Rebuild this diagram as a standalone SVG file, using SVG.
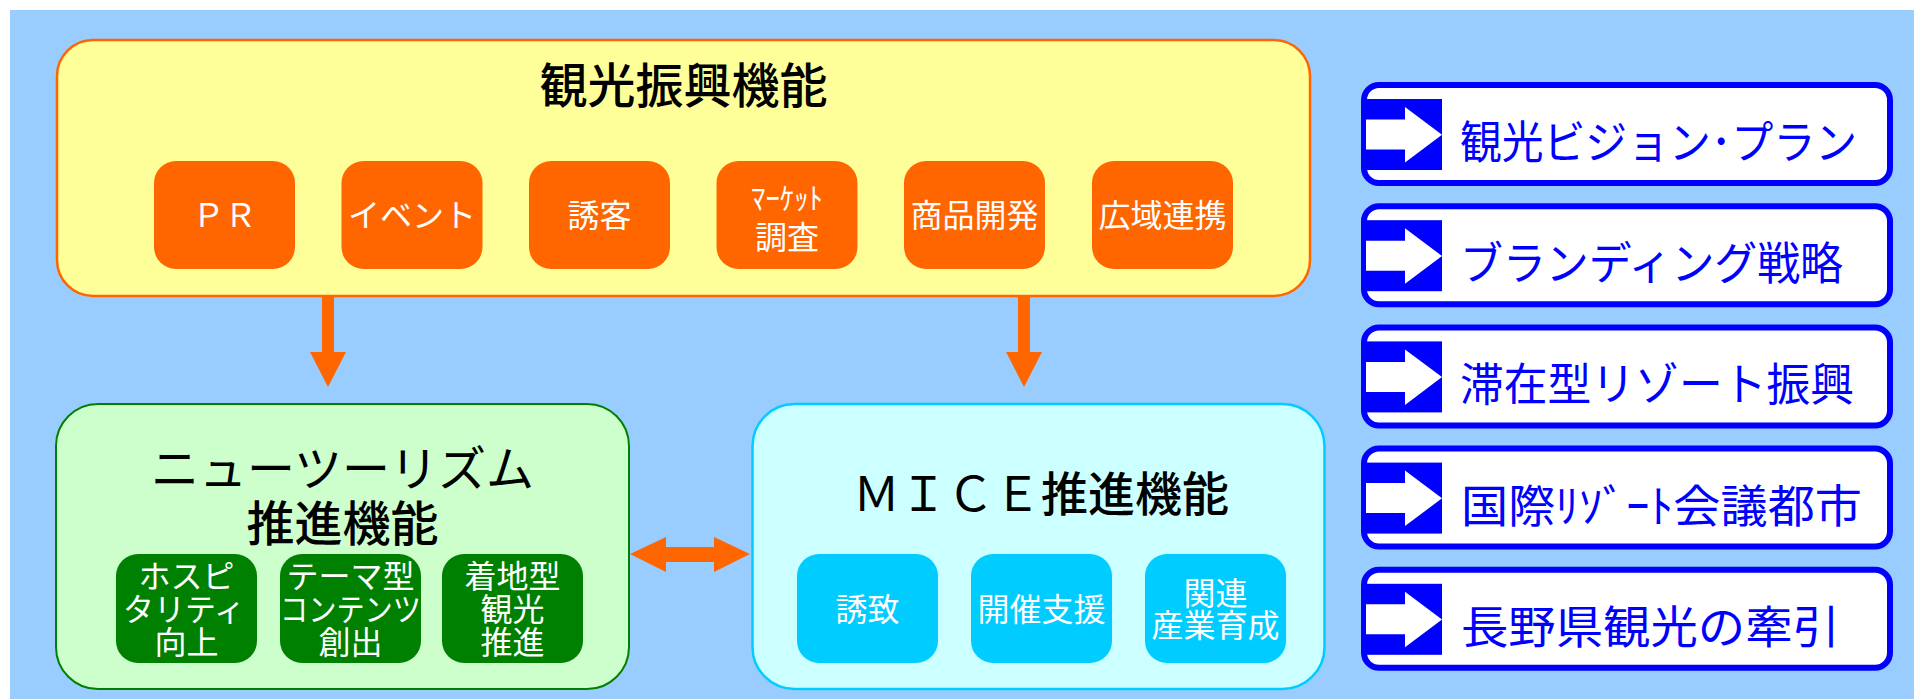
<svg xmlns="http://www.w3.org/2000/svg" width="1914" height="699" viewBox="0 0 1914 699">
<style>
text{font-family:"Noto Sans CJK JP","Noto Sans CJK SC",sans-serif}
.title{font-size:48px;fill:#000;text-anchor:middle;font-weight:500}
.sub{font-size:32px;fill:#fff;text-anchor:middle}
.rt{font-size:45px;fill:#0000FF}
.obox{fill:#FF6600}
.gbox{fill:#008000}
.cbox{fill:#00CCFF}
.bframe{fill:#fff;stroke:#0000FF;stroke-width:6}
.conn{fill:#FF6600}
</style>
<defs>
<g id="barrow">
<rect x="1364" y="99" width="78" height="71" fill="#0000FF"/>
<polygon points="1366,119.5 1405,119.5 1405,107 1442,134.7 1405,162.5 1405,149.5 1366,149.5" fill="#fff"/>
</g>
</defs>
<rect x="0" y="0" width="1914" height="699" fill="#fff"/>
<rect x="10" y="10" width="1904" height="689" fill="#99CCFF"/>

<g id="kanko">
<rect x="57" y="40" width="1253" height="256" rx="36" fill="#FFFF99" stroke="#FF6600" stroke-width="2.5"/>
<text class="title" x="683.5" y="103">観光振興機能</text>
</g>
<g id="pr"><rect class="obox" x="154" y="161" width="141" height="108" rx="22"/><text class="sub" x="224.5" y="227">ＰＲ</text></g>
<g id="event"><rect class="obox" x="341.5" y="161" width="141" height="108" rx="22"/><text class="sub" x="412" y="227">イベント</text></g>
<g id="yukyaku"><rect class="obox" x="529" y="161" width="141" height="108" rx="22"/><text class="sub" x="599.5" y="227">誘客</text></g>
<g id="market"><rect class="obox" x="716.5" y="161" width="141" height="108" rx="22"/><text class="sub" x="787" y="209" style="font-size:30px" textLength="72" lengthAdjust="spacingAndGlyphs">ﾏｰｹｯﾄ</text><text class="sub" x="787" y="249">調査</text></g>
<g id="shohin"><rect class="obox" x="904" y="161" width="141" height="108" rx="22"/><text class="sub" x="974.5" y="227">商品開発</text></g>
<g id="koiki"><rect class="obox" x="1092" y="161" width="141" height="108" rx="22"/><text class="sub" x="1162.5" y="227">広域連携</text></g>

<g id="newtourism">
<rect x="56" y="404" width="573" height="285" rx="42" fill="#CCFFCC" stroke="#008000" stroke-width="2"/>
<text class="title" x="342.5" y="486" style="font-weight:400">ニューツーリズム</text>
<text class="title" x="342.5" y="541">推進機能</text>
</g>
<g id="hospitality"><rect class="gbox" x="116" y="554" width="141" height="109" rx="22"/>
<text class="sub" x="186.5" y="588">ホスピ</text><text class="sub" x="184" y="621" textLength="122" lengthAdjust="spacingAndGlyphs">タリティ</text><text class="sub" x="186.5" y="654">向上</text></g>
<g id="theme"><rect class="gbox" x="280" y="554" width="141" height="109" rx="22"/>
<text class="sub" x="350.5" y="588">テーマ型</text><text class="sub" x="350.5" y="621" textLength="141" lengthAdjust="spacingAndGlyphs">コンテンツ</text><text class="sub" x="350.5" y="654">創出</text></g>
<g id="chakuchi"><rect class="gbox" x="442" y="554" width="141" height="109" rx="22"/>
<text class="sub" x="512.5" y="588">着地型</text><text class="sub" x="512.5" y="621">観光</text><text class="sub" x="512.5" y="654">推進</text></g>

<g id="mice">
<rect x="752.5" y="404" width="572" height="285" rx="42" fill="#CCFFFF" stroke="#00CCFF" stroke-width="2.5"/>
<text class="title" x="1041" y="511" style="font-size:47px"><tspan style="font-weight:400">ＭＩＣＥ</tspan>推進機能</text>
</g>
<g id="yuchi"><rect class="cbox" x="797" y="554" width="141" height="109" rx="22"/><text class="sub" x="867.5" y="621">誘致</text></g>
<g id="kaisai"><rect class="cbox" x="971" y="554" width="141" height="109" rx="22"/><text class="sub" x="1041.5" y="621">開催支援</text></g>
<g id="kanren"><rect class="cbox" x="1145" y="554" width="141" height="109" rx="22"/><text class="sub" x="1215.5" y="605">関連</text><text class="sub" x="1215.5" y="637">産業育成</text></g>

<g id="r1"><rect class="bframe" x="1364" y="85" width="526" height="98" rx="15"/><use href="#barrow"/><text class="rt" x="1460" y="159" textLength="397" lengthAdjust="spacingAndGlyphs">観光ビジョン･プラン</text></g>
<g id="r2"><rect class="bframe" x="1364" y="206.2" width="526" height="98" rx="15"/><use href="#barrow" y="121.2"/><text class="rt" x="1460" y="280.2" textLength="383" lengthAdjust="spacingAndGlyphs">ブランディング戦略</text></g>
<g id="r3"><rect class="bframe" x="1364" y="327.4" width="526" height="98" rx="15"/><use href="#barrow" y="242.4"/><text class="rt" x="1460" y="401.4" textLength="394" lengthAdjust="spacingAndGlyphs">滞在型リゾート振興</text></g>
<g id="r4"><rect class="bframe" x="1364" y="448.6" width="526" height="98" rx="15"/><use href="#barrow" y="363.6"/><text class="rt" x="1461" y="522.6" textLength="401" lengthAdjust="spacingAndGlyphs">国際ﾘｿﾞｰﾄ会議都市</text></g>
<g id="r5"><rect class="bframe" x="1364" y="569.8" width="526" height="98" rx="15"/><use href="#barrow" y="484.8"/><text class="rt" x="1461" y="643.8" textLength="379" lengthAdjust="spacingAndGlyphs">長野県観光の牽引</text></g>

<g id="connectors">
<polygon class="conn" points="322,297 334,297 334,352 346,352 328,387 310,352 322,352"/>
<polygon class="conn" points="1018,297 1030,297 1030,352 1042,352 1024,387 1006,352 1018,352"/>
<polygon class="conn" points="630,554 666,537 666,547 714,547 714,537 750,554 714,572 714,562 666,562 666,572"/>
</g>
</svg>
